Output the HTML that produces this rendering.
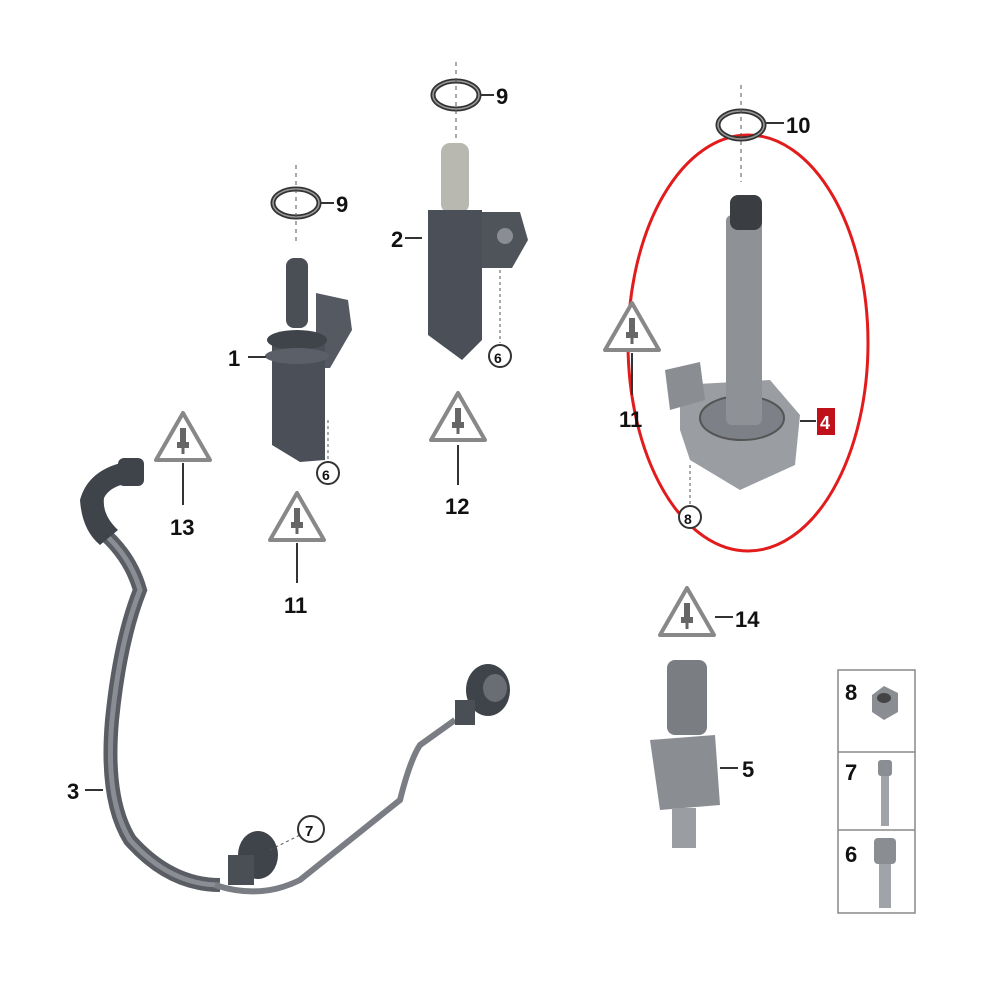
<!DOCTYPE html>
<html><head><style>
html,body{margin:0;padding:0;background:#fff}
svg{display:block}
text{font-family:"Liberation Sans",Arial,sans-serif;font-weight:bold;fill:#111}
</style></head><body>
<svg width="1000" height="1000" viewBox="0 0 1000 1000" xmlns="http://www.w3.org/2000/svg">
<defs>
<g id="warn">
<path d="M0,-27 L27,20 L-27,20 Z" fill="#fff" stroke="#888" stroke-width="4" stroke-linejoin="round"/>
<rect x="-3" y="-12" width="6" height="14" fill="#666"/>
<rect x="-6" y="2" width="12" height="6" fill="#666"/>
<rect x="-1.5" y="8" width="3" height="6" fill="#666"/>
</g>
<g id="ring">
<ellipse cx="0" cy="0" rx="23" ry="14" fill="none" stroke="#333" stroke-width="5"/>
<ellipse cx="0" cy="0" rx="23" ry="14" fill="none" stroke="#999" stroke-width="1.5"/>
</g>
</defs>

<!-- Part 1 -->
<use href="#ring" x="296" y="203"/>
<line x1="296" y1="165" x2="296" y2="243" stroke="#555" stroke-dasharray="4,4"/>
<line x1="320" y1="203" x2="334" y2="203" stroke="#333" stroke-width="2"/>
<text x="336" y="212" font-size="22">9</text>
<rect x="286" y="258" width="22" height="70" rx="8" fill="#4a4e55"/>
<path d="M316,293 L348,300 L352,330 L330,368 L316,368 Z" fill="#555a62"/>
<path d="M272,338 L325,338 L325,460 L300,462 L272,445 Z" fill="#4b5058"/>
<ellipse cx="297" cy="340" rx="30" ry="10" fill="#3f434a"/>
<ellipse cx="297" cy="356" rx="32" ry="8" fill="#5b6068"/>
<line x1="328" y1="420" x2="328" y2="460" stroke="#555" stroke-dasharray="3,3"/>
<circle cx="328" cy="473" r="11" fill="#fff" stroke="#333" stroke-width="2"/>
<text x="322" y="480" font-size="14">6</text>
<line x1="248" y1="357" x2="266" y2="357" stroke="#333" stroke-width="2"/>
<text x="228" y="366" font-size="22">1</text>

<!-- Part 2 -->
<use href="#ring" x="456" y="95"/>
<line x1="456" y1="62" x2="456" y2="140" stroke="#555" stroke-dasharray="4,4"/>
<line x1="480" y1="95" x2="494" y2="95" stroke="#333" stroke-width="2"/>
<text x="496" y="104" font-size="22">9</text>
<rect x="441" y="143" width="28" height="70" rx="9" fill="#b8b8b0"/>
<path d="M478,212 L520,212 L528,240 L512,268 L478,268 Z" fill="#4f545b"/>
<circle cx="505" cy="236" r="8" fill="#8a8d92"/>
<path d="M428,210 L482,210 L482,340 L462,360 L428,335 Z" fill="#4b5058"/>
<line x1="500" y1="270" x2="500" y2="343" stroke="#555" stroke-dasharray="3,3"/>
<circle cx="500" cy="356" r="11" fill="#fff" stroke="#333" stroke-width="2"/>
<text x="494" y="363" font-size="14">6</text>
<line x1="405" y1="238" x2="422" y2="238" stroke="#333" stroke-width="2"/>
<text x="391" y="247" font-size="22">2</text>
<use href="#warn" x="458" y="420"/>
<line x1="458" y1="445" x2="458" y2="485" stroke="#333" stroke-width="2"/>
<text x="445" y="514" font-size="22">12</text>

<use href="#warn" x="183" y="440"/>
<line x1="183" y1="463" x2="183" y2="505" stroke="#333" stroke-width="2"/>
<text x="170" y="535" font-size="22">13</text>
<use href="#warn" x="297" y="520"/>
<line x1="297" y1="543" x2="297" y2="583" stroke="#333" stroke-width="2"/>
<text x="284" y="613" font-size="22">11</text>

<!-- Part 4 -->
<ellipse cx="748" cy="343" rx="120" ry="208" fill="none" stroke="#e21c1c" stroke-width="3"/>
<use href="#ring" x="741" y="125"/>
<line x1="741" y1="85" x2="741" y2="182" stroke="#555" stroke-dasharray="4,4"/>
<line x1="766" y1="123" x2="784" y2="123" stroke="#333" stroke-width="2"/>
<text x="786" y="133" font-size="22">10</text>
<path d="M680,385 L770,380 L800,415 L795,465 L740,490 L690,460 L680,430 Z" fill="#9a9da2"/>
<ellipse cx="742" cy="418" rx="42" ry="22" fill="#7d8086" stroke="#555" stroke-width="2"/>
<path d="M665,370 L700,362 L705,400 L670,410 Z" fill="#8a8d92"/>
<rect x="726" y="215" width="36" height="210" rx="6" fill="#8e9196"/>
<rect x="730" y="195" width="32" height="35" rx="8" fill="#3a3d42"/>
<line x1="690" y1="465" x2="690" y2="505" stroke="#555" stroke-dasharray="3,3"/>
<circle cx="690" cy="517" r="11" fill="#fff" stroke="#333" stroke-width="2"/>
<text x="684" y="524" font-size="14">8</text>
<line x1="800" y1="421" x2="816" y2="421" stroke="#333" stroke-width="2"/>
<rect x="817" y="408" width="18" height="27" fill="#c0101a"/>
<text x="820" y="429" font-size="18" style="fill:#fff">4</text>
<use href="#warn" x="632" y="330"/>
<line x1="632" y1="353" x2="632" y2="395" stroke="#333" stroke-width="2"/>
<text x="619" y="427" font-size="22">11</text>

<!-- Part 5 -->
<use href="#warn" x="687" y="615"/>
<line x1="715" y1="617" x2="733" y2="617" stroke="#333" stroke-width="2"/>
<text x="735" y="627" font-size="22">14</text>
<rect x="667" y="660" width="40" height="75" rx="8" fill="#7a7d82"/>
<path d="M650,740 L715,735 L720,805 L660,810 Z" fill="#8a8d92"/>
<rect x="672" y="808" width="24" height="40" fill="#9a9da2"/>
<line x1="720" y1="768" x2="738" y2="768" stroke="#333" stroke-width="2"/>
<text x="742" y="777" font-size="22">5</text>

<!-- Part 3 -->
<path d="M100,530 Q130,555 140,590 Q120,640 112,720 Q105,800 130,840 Q170,885 220,885" fill="none" stroke="#5a5e64" stroke-width="14"/>
<path d="M100,530 Q130,555 140,590 Q120,640 112,720 Q105,800 130,840 Q170,885 220,885" fill="none" stroke="#8a8e94" stroke-width="5"/>
<path d="M125,462 Q88,470 80,500 Q82,530 100,545 L118,530 Q102,515 104,498 Q110,485 135,482 Z" fill="#3f434a"/>
<rect x="118" y="458" width="26" height="28" rx="6" fill="#3f434a"/>
<path d="M215,885 Q260,900 300,880 L400,800 Q410,760 420,745 L455,720" fill="none" stroke="#7a7e84" stroke-width="6"/>
<ellipse cx="488" cy="690" rx="22" ry="26" fill="#3f434a"/>
<ellipse cx="495" cy="688" rx="12" ry="14" fill="#6a6e74"/>
<rect x="455" y="700" width="20" height="25" fill="#4a4e55"/>
<ellipse cx="258" cy="855" rx="20" ry="24" fill="#3f434a"/>
<rect x="228" y="855" width="26" height="30" fill="#4a4e55"/>
<line x1="270" y1="850" x2="300" y2="835" stroke="#555" stroke-dasharray="3,3"/>
<circle cx="311" cy="829" r="13" fill="#fff" stroke="#333" stroke-width="2"/>
<text x="305" y="836" font-size="15">7</text>
<line x1="85" y1="790" x2="103" y2="790" stroke="#333" stroke-width="2"/>
<text x="67" y="799" font-size="22">3</text>

<!-- table -->
<rect x="838" y="670" width="77" height="243" fill="#fff" stroke="#888" stroke-width="1.5"/>
<line x1="838" y1="752" x2="915" y2="752" stroke="#888" stroke-width="1.5"/>
<line x1="838" y1="830" x2="915" y2="830" stroke="#888" stroke-width="1.5"/>
<text x="845" y="700" font-size="22">8</text>
<text x="845" y="780" font-size="22">7</text>
<text x="845" y="862" font-size="22">6</text>
<path d="M872,695 L884,686 L898,693 L898,712 L884,720 L872,712 Z" fill="#8a8d92"/>
<ellipse cx="884" cy="698" rx="7" ry="5" fill="#444"/>
<rect x="878" y="760" width="14" height="16" rx="3" fill="#8a8d92"/>
<rect x="881" y="776" width="8" height="50" fill="#a0a3a8"/>
<rect x="874" y="838" width="22" height="26" rx="4" fill="#8a8d92"/>
<rect x="879" y="864" width="12" height="44" fill="#a0a3a8"/>
</svg>
</body></html>
